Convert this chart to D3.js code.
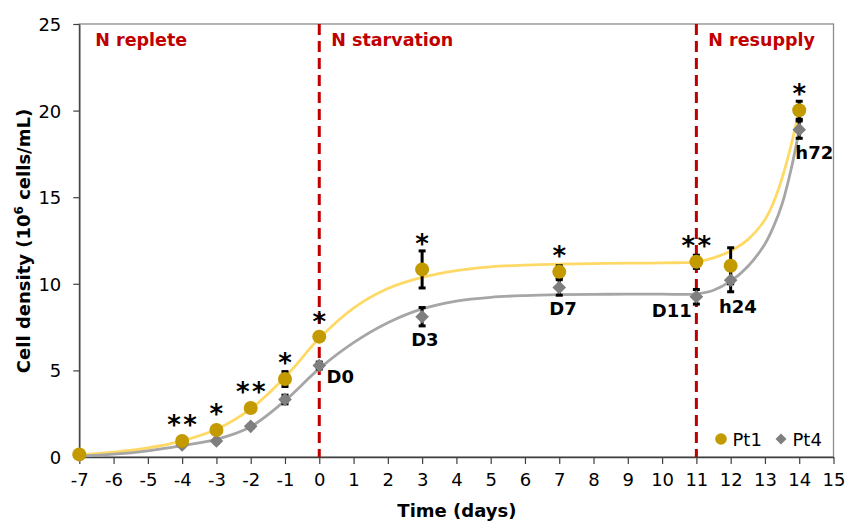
<!DOCTYPE html>
<html>
<head>
<meta charset="utf-8">
<script src="https://cdn.jsdelivr.net/npm/d3@7"></script>
<style>
  html, body { margin: 0; padding: 0; background: #fff; }
  svg { display: block; font-family: "DejaVu Sans", sans-serif; }
</style>
</head>
<body>
<svg id="chart" width="845" height="521"></svg>
<script>
// ---- data ----
const days   = [-7, -4, -3, -2, -1, 0, 3, 7, 11, 12, 14];
const pt1    = [0.15, 0.93, 1.56, 2.83, 4.5, 6.95, 10.83, 10.69, 11.27, 11.04, 20.02];
const pt1Err = [0.05, 0.1, 0.15, 0.15, 0.43, 0.2, 1.07, 0.35, 0.38, 1.04, 0.52];
const pt4    = [0.1, 0.69, 0.92, 1.77, 3.32, 5.28, 8.1, 9.79, 9.25, 10.21, 18.9];
const pt4Err = [0.05, 0.05, 0.1, 0.1, 0.25, 0.2, 0.53, 0.45, 0.42, 0.67, 0.5];

// fitted curves
const fitDays = [-7, -6, -5, -4, -3, -2, -1, 0, 1, 2, 3, 4, 5, 6, 7, 8, 9, 10, 11, 11.5, 12, 12.5, 13, 13.25, 13.5, 13.75, 14];
const fitPt1  = [0.12, 0.28, 0.52, 0.93, 1.6, 2.78, 4.6, 6.85, 8.6, 9.73, 10.37, 10.76, 10.98, 11.08, 11.14, 11.17, 11.19, 11.21, 11.27, 11.5, 11.9, 12.55, 13.7, 14.7, 16.1, 17.9, 20.0];
const fitPt4  = [0.05, 0.16, 0.36, 0.66, 1.02, 1.75, 3.25, 5.1, 6.6, 7.75, 8.55, 9.0, 9.22, 9.32, 9.37, 9.39, 9.4, 9.4, 9.42, 9.63, 10.15, 11.0, 12.3, 13.3, 14.6, 16.5, 18.9];

const xTicks = d3.range(-7, 16);
const yTicks = [0, 5, 10, 15, 20, 25];

const phaseLabels = ["N replete", "N starvation", "N resupply"];
const phaseStart  = [-7, 0, 11];
const phaseLines  = [0, 11];

const sigDays  = [-4, -3, -2, -1, 0, 3, 7, 11, 14];
const sigStars = [2, 1, 2, 1, 1, 1, 1, 2, 1];
const sigY     = [2.13, 2.77, 4.06, 5.7, 8.1, 12.58, 11.9, 12.48, 21.27];

const ptLabels = ["D0", "D3", "D7", "D11", "h24", "h72"];
const ptLabelX = [0.61, 3.08, 7.11, 10.28, 12.21, 14.44];
const ptLabelY = [4.25, 6.42, 8.19, 8.1, 8.29, 17.18];

const seriesNames = ["Pt1", "Pt4"];

// ---- layout ----
const svg = d3.select("#chart");
const L = 79.3, R = 833.5, T = 24, B = 457;
const x = d3.scaleLinear().domain([-7, 15]).range([L, R]);
const y = d3.scaleLinear().domain([0, 25]).range([B, T]);

const gold = "#C39A00", goldLine = "#FFD966";
const gray = "#7F7F7F", grayLine = "#A6A6A6";
const red = "#C00000";

// frame
svg.append("rect").attr("x", L).attr("y", T).attr("width", R - L).attr("height", B - T)
  .attr("fill", "none").attr("stroke", "#8C8C8C").attr("stroke-width", 1.3);

// axes
const xAxis = svg.append("g").attr("transform", `translate(0,${B})`)
  .call(d3.axisBottom(x).tickValues(xTicks).tickFormat(d => String(d)).tickSize(7).tickSizeOuter(0).tickPadding(9));
const yAxis = svg.append("g").attr("transform", `translate(${L},0)`)
  .call(d3.axisLeft(y).tickValues(yTicks).tickFormat(d => String(d)).tickSize(6).tickSizeOuter(0).tickPadding(12));
[xAxis, yAxis].forEach(g => {
  g.select(".domain").attr("stroke", "#404040").attr("stroke-width", 1.4);
  g.selectAll(".tick line").attr("stroke", "#404040").attr("stroke-width", 1.2);
  g.selectAll(".tick text").attr("fill", "#000").style("font-size", "18px").style("font-family", "DejaVu Sans, sans-serif");
});
xAxis.selectAll(".tick text").attr("dy", "0.71em");
yAxis.selectAll(".tick text").attr("dy", "0.36em");

// axis titles
svg.append("text").attr("x", (L + R) / 2 + 0.5).attr("y", 517).attr("text-anchor", "middle")
  .style("font-size", "18px").style("font-weight", "bold").text("Time (days)");
const yt = svg.append("text").attr("transform", "translate(30,241) rotate(-90)").attr("text-anchor", "middle")
  .style("font-size", "18px").style("font-weight", "bold");
yt.append("tspan").text("Cell density (10");
yt.append("tspan").attr("dy", -7).style("font-size", "12px").text("6");
yt.append("tspan").attr("dy", 7).text(" cells/mL)");

// phase dashed lines
svg.selectAll(".phase").data(phaseLines).join("line")
  .attr("x1", d => x(d)).attr("x2", d => x(d)).attr("y1", T).attr("y2", B)
  .attr("stroke", red).attr("stroke-width", 3).attr("stroke-dasharray", "11,6");

// phase labels
svg.selectAll(".plabel").data(phaseLabels).join("text")
  .attr("x", (d, i) => x(phaseStart[i]) + (i === 0 ? 16 : 12))
  .attr("y", 45.5)
  .attr("fill", red).style("font-size", "17.5px").style("font-weight", "bold").text(d => d);

// fitted curves
const line = d3.line().curve(d3.curveCatmullRom.alpha(0.5));
svg.append("path").attr("d", line(fitDays.map((d, i) => [x(d), y(fitPt1[i])])))
  .attr("fill", "none").attr("stroke", goldLine).attr("stroke-width", 2.8);
svg.append("path").attr("d", line(fitDays.map((d, i) => [x(d), y(fitPt4[i])])))
  .attr("fill", "none").attr("stroke", grayLine).attr("stroke-width", 2.8);

// error bars
function errBars(vals, errs) {
  const g = svg.append("g");
  days.forEach((d, i) => {
    const cx = x(d), y1 = y(vals[i] + errs[i]), y2 = y(vals[i] - errs[i]);
    g.append("line").attr("x1", cx).attr("x2", cx).attr("y1", y1).attr("y2", y2)
      .attr("stroke", "#000").attr("stroke-width", 3);
    [y1, y2].forEach(yy => g.append("line").attr("x1", cx - 3.5).attr("x2", cx + 3.5).attr("y1", yy).attr("y2", yy)
      .attr("stroke", "#000").attr("stroke-width", 3));
  });
}
errBars(pt1, pt1Err);
errBars(pt4, pt4Err);

// markers
const diamond = (cx, cy, h) => `M${cx},${cy - h}L${cx + h},${cy}L${cx},${cy + h}L${cx - h},${cy}Z`;
svg.append("g").selectAll("path").data(days).join("path")
  .attr("d", (d, i) => diamond(x(d), y(pt4[i]), 6.8)).attr("fill", gray);
svg.append("g").selectAll("circle").data(days).join("circle")
  .attr("cx", d => x(d)).attr("cy", (d, i) => y(pt1[i])).attr("r", 7).attr("fill", gold);

// significance stars
sigDays.forEach((d, i) => {
  const n = sigStars[i];
  for (let k = 0; k < n; k++) {
    const off = n === 1 ? 0 : (k === 0 ? -8 : 8);
    svg.append("text").attr("x", x(d) + off).attr("y", y(sigY[i]) + 14)
      .attr("text-anchor", "middle").style("font-size", "26px").style("font-weight", "bold").text("*");
  }
});

// point labels
svg.selectAll(".ptl").data(ptLabels).join("text")
  .attr("x", (d, i) => x(ptLabelX[i])).attr("y", (d, i) => y(ptLabelY[i]))
  .attr("text-anchor", "middle").style("font-size", "18px").style("font-weight", "bold").text(d => d);

// legend
svg.append("circle").attr("cx", 721).attr("cy", 439).attr("r", 5.8).attr("fill", gold);
svg.append("text").attr("x", 732.5).attr("y", 446).style("font-size", "18px").text(seriesNames[0]);
svg.append("path").attr("d", diamond(781, 439, 5.5)).attr("fill", gray);
svg.append("text").attr("x", 792.5).attr("y", 446).style("font-size", "18px").text(seriesNames[1]);
</script>
</body>
</html>
